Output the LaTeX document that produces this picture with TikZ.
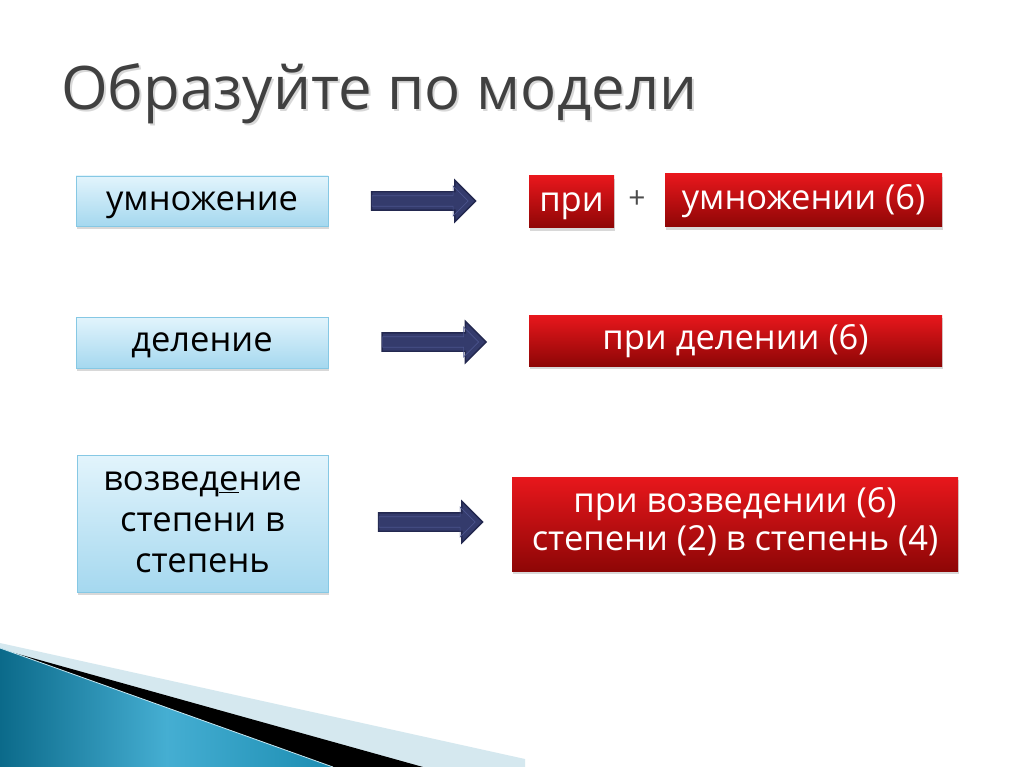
\documentclass[tikz,border=0pt]{standalone}
\usepackage{fontspec}
\setmainfont{Open Sans}
\usetikzlibrary{shapes.arrows,shadows}
\definecolor{titlegray}{HTML}{404040}
\definecolor{bluetop}{HTML}{E2F4FC}
\definecolor{bluebot}{HTML}{A5D8EF}
\definecolor{blueedge}{HTML}{86C8E4}
\definecolor{redtop}{HTML}{E8171C}
\definecolor{redbot}{HTML}{8E0606}
\definecolor{arrowfill}{HTML}{343B6C}
\definecolor{arrowedge}{HTML}{23284F}
\definecolor{arrowhi}{HTML}{4A538C}
\definecolor{tealdark}{HTML}{0B6A8A}
\definecolor{teallight}{HTML}{45AED2}
\definecolor{tealmid}{HTML}{1C8DB2}
\definecolor{paleband}{HTML}{D5E8EF}
\tikzset{
  boxfont/.style={font=\fontsize{34.5}{41}\selectfont},
  oneline/.style={boxfont, text height=18.5pt, text depth=0pt},
  bluebox/.style={draw=blueedge, line width=0.8pt, top color=bluetop, bottom color=bluebot,
    text=black, align=center, inner sep=0pt,
    drop shadow={opacity=0.3, shadow xshift=1pt, shadow yshift=-3pt}},
  redbox/.style={draw=none, top color=redtop, bottom color=redbot,
    text=white, align=center, inner sep=0pt,
    drop shadow={opacity=0.3, shadow xshift=1pt, shadow yshift=-3pt}},
  linetext/.style={boxfont, anchor=base, inner sep=0pt},
  fatarrow/.style={single arrow, draw=arrowedge, fill=arrowfill, line width=1.4pt,
    minimum width=40pt, single arrow head extend=11.5pt, inner sep=8.5pt,
    single arrow tip angle=90, shape border rotate=0},
  arrowlight/.style={single arrow, draw=arrowhi, line width=0.7pt,
    minimum width=30pt, single arrow head extend=9pt, inner sep=4.5pt,
    single arrow tip angle=90, shape border rotate=0}
}
\begin{document}
\begin{tikzpicture}[x=1pt,y=-1pt]
\useasboundingbox (0,0) rectangle (1024,767);
\fill[white] (0,0) rectangle (1024,767);
% bottom-left decoration
\fill[paleband] (0,643) -- (525,759) -- (525,767) -- (0,767) -- cycle;
\fill[black] (0,649) -- (423,767) -- (0,767) -- cycle;
\shade[left color=tealdark, right color=tealmid, middle color=teallight] (0,648) -- (333,767) -- (0,767) -- cycle;
\draw[white!70!teallight, line width=0.8pt] (0,648) -- (333,767);
% title
\node[anchor=base west, text=black!30, opacity=0.5, font=\fontsize{60}{70}\selectfont, inner sep=0pt] at (63,112) {Образуйте по модели};
\node (title) [anchor=base west, text=titlegray, font=\fontsize{60}{70}\selectfont, inner sep=0pt] at (61,110) {Образуйте по модели};
% left boxes
\node (b1) [bluebox, oneline, minimum width=252pt, minimum height=50pt] at (202,201) {умножение};
\node (b2) [bluebox, oneline, minimum width=252pt, minimum height=51pt] at (202,342.5) {деление};
\node (b3) [bluebox, minimum width=251pt, minimum height=137pt] at (202.5,523.5) {};
\node (b3l1) [linetext, text=black] at (202.5,490) {возвед\underline{е}ние};
\node (b3l2) [linetext, text=black] at (202.5,531) {степени в};
\node (b3l3) [linetext, text=black] at (202.5,572) {степень};
% arrows
\node (a1) [fatarrow, minimum height=104pt] at (419,201) {};
\node (a1i) [arrowlight, minimum height=96pt] at (417.5,201) {};
\node (a2) [fatarrow, minimum height=104pt] at (429.5,342) {};
\node (a2i) [arrowlight, minimum height=96pt] at (428,342) {};
\node (a3) [fatarrow, minimum height=104pt] at (426,522) {};
\node (a3i) [arrowlight, minimum height=96pt] at (424.5,522) {};
% right boxes
\node (r1a) [redbox, oneline, minimum width=85pt, minimum height=52pt] at (571.5,202) {при};
\node (plus) [font=\fontsize{30}{34}\selectfont, text=black!70, inner sep=0pt] at (637,200) {+};
\node (r1b) [redbox, oneline, minimum width=277pt, minimum height=53pt] at (803.5,200.5) {умножении (6)};
\node (r2) [redbox, oneline, minimum width=413pt, minimum height=51pt] at (735.5,340.5) {при делении (6)};
\node (r3) [redbox, minimum width=446pt, minimum height=94pt] at (735,524) {};
\node (r3l1) [linetext, text=white] at (735,512) {при возведении (6)};
\node (r3l2) [linetext, text=white] at (735,550) {степени (2) в степень (4)};
\end{tikzpicture}
\end{document}
